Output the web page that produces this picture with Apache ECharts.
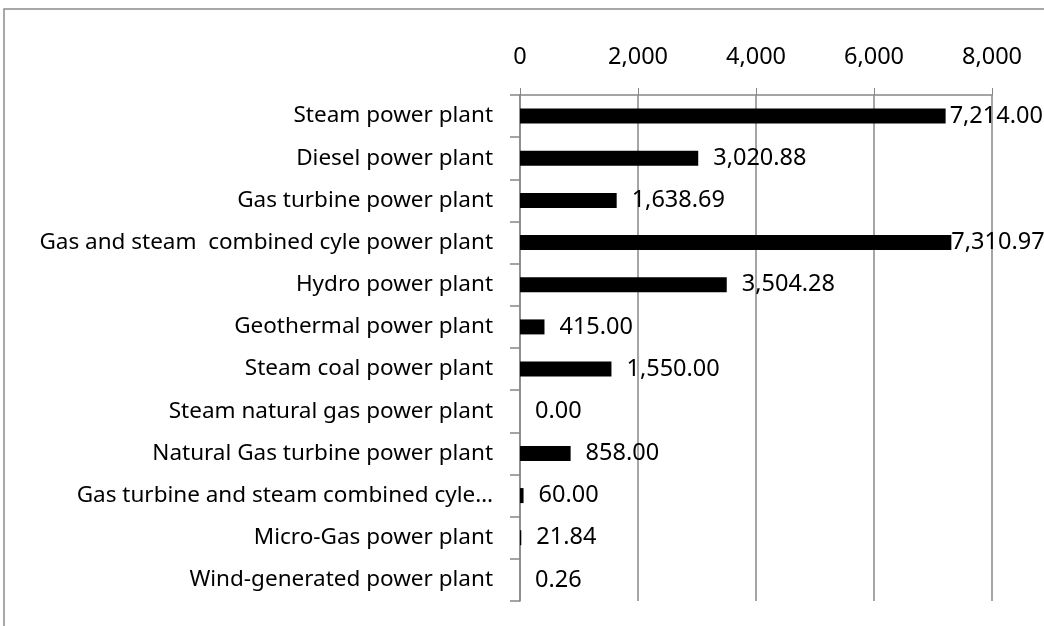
<!DOCTYPE html>
<html>
<head>
<meta charset="utf-8">
<script src="https://cdn.jsdelivr.net/npm/echarts@6/dist/echarts.min.js"></script>
<style>
  html, body { margin: 0; padding: 0; background: #fff; }
  #main { width: 1044px; height: 626px; }
</style>
</head>
<body>
<div id="main"></div>
<script>
// plant types, top to bottom
const plantNames = [
  'Steam power plant',
  'Diesel power plant',
  'Gas turbine power plant',
  'Gas and steam  combined cyle power plant',
  'Hydro power plant',
  'Geothermal power plant',
  'Steam coal power plant',
  'Steam natural gas power plant',
  'Natural Gas turbine power plant',
  'Gas turbine and steam combined cyle…',
  'Micro-Gas power plant',
  'Wind-generated power plant'
];
const capacity = [7214.00, 3020.88, 1638.69, 7310.97, 3504.28, 415.00, 1550.00, 0.00, 858.00, 60.00, 21.84, 0.26];
const axisTicks = [0, 2000, 4000, 6000, 8000];

const FONT = 'Noto Sans';
const GRAY = '#878787';

const chart = echarts.init(document.getElementById('main'), null, { renderer: 'canvas' });

const fmt = v => v.toLocaleString('en-US', { minimumFractionDigits: 2, maximumFractionDigits: 2 });

// the two longest bars keep their labels pulled in against the bar end
const labelGap = v => (v > 7250 ? 0 : v > 7000 ? 4 : 15);

const option = {
  animation: false,
  backgroundColor: '#fff',
  textStyle: { fontFamily: FONT },
  graphic: [{
    type: 'rect',
    shape: { x: 4, y: 9, width: 1100, height: 700 },
    style: { fill: 'none', stroke: '#8c8c8c', lineWidth: 1.5 },
    silent: true
  }],
  grid: { left: 520, right: 52, top: 95, bottom: 25 },
  xAxis: {
    type: 'value',
    position: 'top',
    min: axisTicks[0],
    max: axisTicks[axisTicks.length - 1],
    interval: axisTicks[1] - axisTicks[0],
    axisLine: { show: true, lineStyle: { color: GRAY, width: 1.5 } },
    axisTick: { show: true, length: 7, lineStyle: { color: GRAY } },
    splitLine: { show: true, lineStyle: { color: GRAY, width: 1.5 } },
    axisLabel: {
      margin: 26,
      color: '#000',
      fontFamily: FONT,
      fontSize: 23.5,
      formatter: v => v.toLocaleString('en-US')
    }
  },
  yAxis: {
    type: 'category',
    inverse: true,
    data: plantNames,
    axisLine: { show: true, lineStyle: { color: GRAY, width: 1.5 } },
    axisTick: { show: true, length: 10, lineStyle: { color: GRAY, width: 1.5 } },
    axisLabel: {
      margin: 27,
      color: '#000',
      fontFamily: FONT,
      fontSize: 22.5,
      padding: [3, 0, 0, 0]
    }
  },
  series: [{
    type: 'bar',
    data: capacity.map(v => ({
      value: v,
      label: { distance: labelGap(v) }
    })),
    barWidth: 15,
    itemStyle: { color: '#000' },
    label: {
      show: true,
      position: 'right',
      color: '#000',
      fontFamily: FONT,
      fontSize: 23.5,
      padding: [3, 0, 0, 0],
      formatter: p => fmt(p.value)
    }
  }]
};

chart.setOption(option);
</script>
</body>
</html>
